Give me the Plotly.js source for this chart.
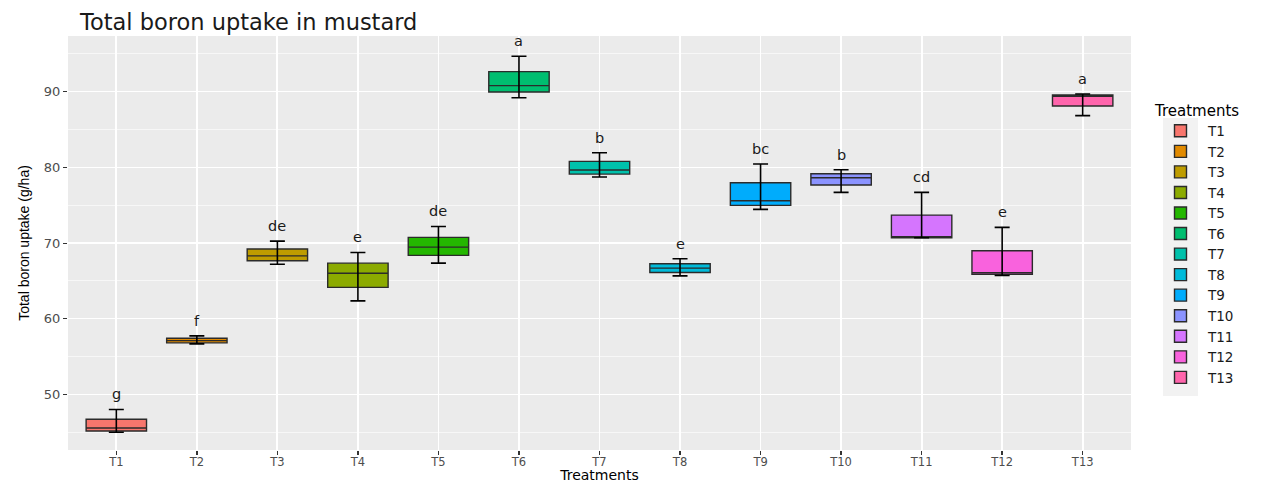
<!DOCTYPE html>
<html>
<head>
<meta charset="utf-8">
<script src="https://cdn.plot.ly/plotly-3.0.1.min.js"></script>
<style>
  html, body { margin: 0; padding: 0; background: #ffffff; }
  #chart { width: 1274px; height: 483px; }
</style>
</head>
<body>
<div id="chart"></div>
<script>
// Treatments and five-number summaries of total boron uptake (g/ha)
const treatments = ['T1', 'T2', 'T3', 'T4', 'T5', 'T6', 'T7', 'T8', 'T9', 'T10', 'T11', 'T12', 'T13'];
const lowerWhisker = [44.98, 56.67, 67.20, 62.35, 67.34, 89.20, 78.72, 65.66, 74.44, 76.69, 70.69, 65.71, 86.83];
const q1Values     = [45.15, 56.80, 67.65, 64.13, 68.36, 89.96, 79.11, 66.10, 74.97, 77.66, 70.69, 65.85, 88.10];
const medianValues = [45.55, 57.10, 68.30, 66.00, 69.46, 90.80, 79.64, 66.68, 75.58, 78.62, 70.78, 66.06, 89.40];
const q3Values     = [46.70, 57.42, 69.20, 67.34, 70.74, 92.65, 80.79, 67.25, 77.96, 79.15, 73.69, 68.97, 89.56];
const upperWhisker = [48.00, 57.73, 70.25, 68.75, 72.19, 94.68, 81.93, 67.91, 80.44, 79.68, 76.69, 72.06, 89.70];
// Mean-separation letters shown above each treatment
const groupLetters = ['g', 'f', 'de', 'e', 'de', 'a', 'b', 'e', 'bc', 'b', 'cd', 'e', 'a'];
// Hue palette, one colour per treatment
const fillColors = ['#F8766D', '#E18A00', '#BE9C00', '#8CAB00', '#24B700', '#00BE70', '#00C1AB',
                    '#00BBDA', '#00ACFC', '#8B93FF', '#D575FE', '#F962DD', '#FF65AC'];

const FONT = 'DejaVu Sans, Liberation Sans, Arial, sans-serif';

// One box trace per treatment (box from q1 to q3 with the median line)
const boxTraces = treatments.map((t, i) => ({
  type: 'box',
  name: t,
  x: [t],
  q1: [q1Values[i]],
  median: [medianValues[i]],
  q3: [q3Values[i]],
  lowerfence: [q1Values[i]],
  upperfence: [q3Values[i]],
  width: 0.75,
  whiskerwidth: 0,
  fillcolor: fillColors[i],
  line: { color: '#2b2b2b', width: 1.4 },
  hoverinfo: 'skip',
  showlegend: true
}));

// Error bars spanning the whisker range, drawn over the boxes
const whiskerTrace = {
  type: 'scatter',
  mode: 'markers',
  x: treatments,
  y: medianValues,
  marker: { size: 1, color: 'rgba(0,0,0,0)' },
  error_y: {
    type: 'data',
    symmetric: false,
    array: upperWhisker.map((u, i) => u - medianValues[i]),
    arrayminus: lowerWhisker.map((l, i) => medianValues[i] - l),
    color: '#000000',
    thickness: 1.6,
    width: 7.5
  },
  hoverinfo: 'skip',
  showlegend: false
};

// Group letters placed just above the upper whisker
const letterAnnotations = treatments.map((t, i) => ({
  x: t,
  y: upperWhisker[i],
  xref: 'x',
  yref: 'y',
  text: groupLetters[i],
  showarrow: false,
  yanchor: 'bottom',
  yshift: 5,
  font: { family: FONT, size: 14.5, color: '#1a1a1a' }
}));

const layout = {
  width: 1274,
  height: 483,
  margin: { l: 68, r: 143, t: 36, b: 33, pad: 0 },
  paper_bgcolor: '#ffffff',
  plot_bgcolor: '#EBEBEB',
  boxmode: 'overlay',
  title: {
    text: 'Total boron uptake in mustard',
    x: 80 / 1274,
    xref: 'container',
    xanchor: 'left',
    y: 1 - 22 / 483,
    yref: 'container',
    yanchor: 'middle',
    font: { family: FONT, size: 22.5, color: '#1a1a1a' }
  },
  xaxis: {
    type: 'category',
    categoryorder: 'array',
    categoryarray: treatments,
    range: [-0.6, 12.6],
    showgrid: true,
    gridcolor: '#ffffff',
    gridwidth: 1.8,
    zeroline: false,
    showline: false,
    ticks: 'outside',
    ticklen: 4,
    tickwidth: 1.5,
    tickcolor: '#333333',
    ticklabelstandoff: -3,
    tickfont: { family: FONT, size: 11.5, color: '#4D4D4D' },
    title: {
      text: 'Treatments',
      standoff: 9,
      font: { family: FONT, size: 14, color: '#000000' }
    },
    automargin: false
  },
  yaxis: {
    range: [42.64, 97.36],
    tickvals: [50, 60, 70, 80, 90],
    ticktext: ['50', '60', '70', '80', '90'],
    showgrid: true,
    gridcolor: '#ffffff',
    gridwidth: 1.2,
    minor: { dtick: 5, tick0: 0, showgrid: true, gridcolor: '#ffffff', gridwidth: 0.6, ticklen: 0 },
    zeroline: false,
    showline: false,
    ticks: 'outside',
    ticklen: 4,
    tickwidth: 1,
    tickcolor: '#333333',
    tickfont: { family: FONT, size: 13, color: '#4D4D4D' },
    title: {
      text: 'Total boron uptake (g/ha)',
      standoff: 10,
      font: { family: 'Liberation Sans, Arial, sans-serif', size: 14, color: '#000000' }
    },
    automargin: false
  },
  legend: {
    x: (1153 - 68) / 1063,
    xanchor: 'left',
    y: (450 - 96) / 414,
    yanchor: 'top',
    bgcolor: 'rgba(0,0,0,0)',
    itemwidth: 45,
    font: { family: FONT, size: 13.5, color: '#1a1a1a' },
    title: { text: 'Treatments', font: { family: FONT, size: 15, color: '#000000' } },
    traceorder: 'normal'
  },
  shapes: [{
    type: 'rect',
    xref: 'paper',
    yref: 'paper',
    x0: (1163 - 68) / 1063,
    x1: (1198 - 68) / 1063,
    y0: (450 - 396) / 414,
    y1: (450 - 118) / 414,
    fillcolor: '#F2F2F2',
    line: { width: 0 },
    layer: 'below'
  }],
  annotations: letterAnnotations,
  showlegend: true
};

Plotly.newPlot('chart', boxTraces.concat([whiskerTrace]), layout, { displayModeBar: false, staticPlot: true });
</script>
</body>
</html>
